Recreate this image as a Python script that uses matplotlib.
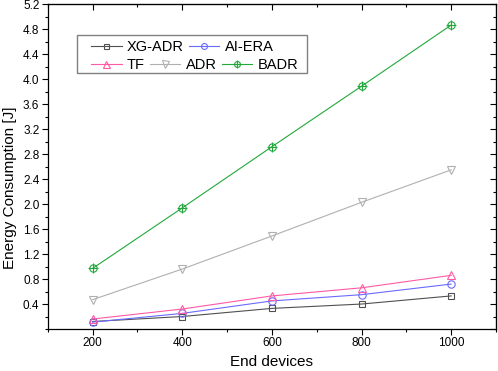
import matplotlib.pyplot as plt
from matplotlib.patches import Rectangle
from matplotlib.ticker import MultipleLocator

plt.rcParams['font.family'] = ['Liberation Sans', 'DejaVu Sans']

# data
devices = [200, 400, 600, 800, 1000]
xg_adr = [0.12, 0.20, 0.33, 0.40, 0.53]
ai_era = [0.11, 0.25, 0.45, 0.55, 0.72]
tf = [0.16, 0.32, 0.53, 0.66, 0.86]
adr = [0.47, 0.96, 1.49, 2.03, 2.55]
badr = [0.97, 1.94, 2.92, 3.89, 4.87]

fig = plt.figure(figsize=(4.98, 3.71), dpi=100)
ax = fig.add_axes([0.0958, 0.1132, 0.9002, 0.8748])

lw = 0.8
l_xg, = ax.plot(devices, xg_adr, color='#505050', lw=lw, marker='s', ms=4.5,
                mfc='none', mew=0.8)
l_ai, = ax.plot(devices, ai_era, color='#6a6aff', lw=lw, marker='o', ms=5.3,
                mfc='none', mew=0.8)
l_tf, = ax.plot(devices, tf, color='#ff5aa5', lw=lw, marker='^', ms=6.3,
                mfc='none', mew=0.8)
l_adr, = ax.plot(devices, adr, color='#b0b0b0', lw=lw, marker='v', ms=6.3,
                 mfc='none', mew=0.8)
l_badr, = ax.plot(devices, badr, color='#22a83a', lw=lw, marker='o', ms=5.3,
                  mfc='none', mew=0.8)
l_badr2, = ax.plot(devices, badr, color='#22a83a', lw=0, marker='+', ms=7.3,
                   mew=0.8)

ax.set_xlim(100, 1100)
ax.set_ylim(0, 5.2)
ax.xaxis.set_major_locator(MultipleLocator(200))
ax.xaxis.set_minor_locator(MultipleLocator(100))
ax.set_yticks([0.4 * i for i in range(1, 14)])
ax.set_yticklabels(['%.1f' % (0.4 * i) for i in range(1, 14)])
ax.yaxis.set_minor_locator(MultipleLocator(0.2))
ax.tick_params(which='major', direction='out', length=4, width=0.8, labelsize=8.5, pad=2)
ax.tick_params(which='minor', direction='out', length=2.5, width=0.8)
for s in ax.spines.values():
    s.set_linewidth(0.9)

# inward ticks on top and right
top = ax.secondary_xaxis('top')
top.xaxis.set_major_locator(MultipleLocator(200))
top.xaxis.set_minor_locator(MultipleLocator(100))
top.tick_params(which='major', direction='in', length=4, width=0.8, labeltop=False)
top.tick_params(which='minor', direction='in', length=2.5, width=0.8)
right = ax.secondary_yaxis('right')
right.yaxis.set_major_locator(MultipleLocator(0.4))
right.yaxis.set_minor_locator(MultipleLocator(0.2))
right.tick_params(which='major', direction='in', length=4, width=0.8, labelright=False)
right.tick_params(which='minor', direction='in', length=2.5, width=0.8)

ax.set_xlabel('End devices', fontsize=11, labelpad=4)
ax.set_ylabel('Energy Consumption [J]', fontsize=11)
ax.yaxis.set_label_coords(-0.068, 0.435)

# legend: two rows like the original, with a frame drawn around them
opts = dict(loc='center left', frameon=False, fontsize=10.5, handlelength=2.1,
            handletextpad=0.35, columnspacing=0.35, borderpad=0, borderaxespad=0,
            markerscale=0.8, bbox_transform=fig.transFigure)
leg1 = ax.legend([l_xg, l_ai], ['XG-ADR', 'AI-ERA'], ncol=2,
                 bbox_to_anchor=(91 / 498, 1 - 47 / 371), **opts)
ax.add_artist(leg1)
leg2 = ax.legend([l_tf, l_adr, (l_badr, l_badr2)], ['TF', 'ADR', 'BADR'], ncol=3,
                 bbox_to_anchor=(91 / 498, 1 - 65 / 371), **opts)
fig.patches.append(Rectangle((77 / 498, 1 - 73 / 371), 230 / 498, 38 / 371,
                             transform=fig.transFigure, fill=False,
                             edgecolor='#808080', lw=1.0))

fig.savefig('out.png', dpi=100)
